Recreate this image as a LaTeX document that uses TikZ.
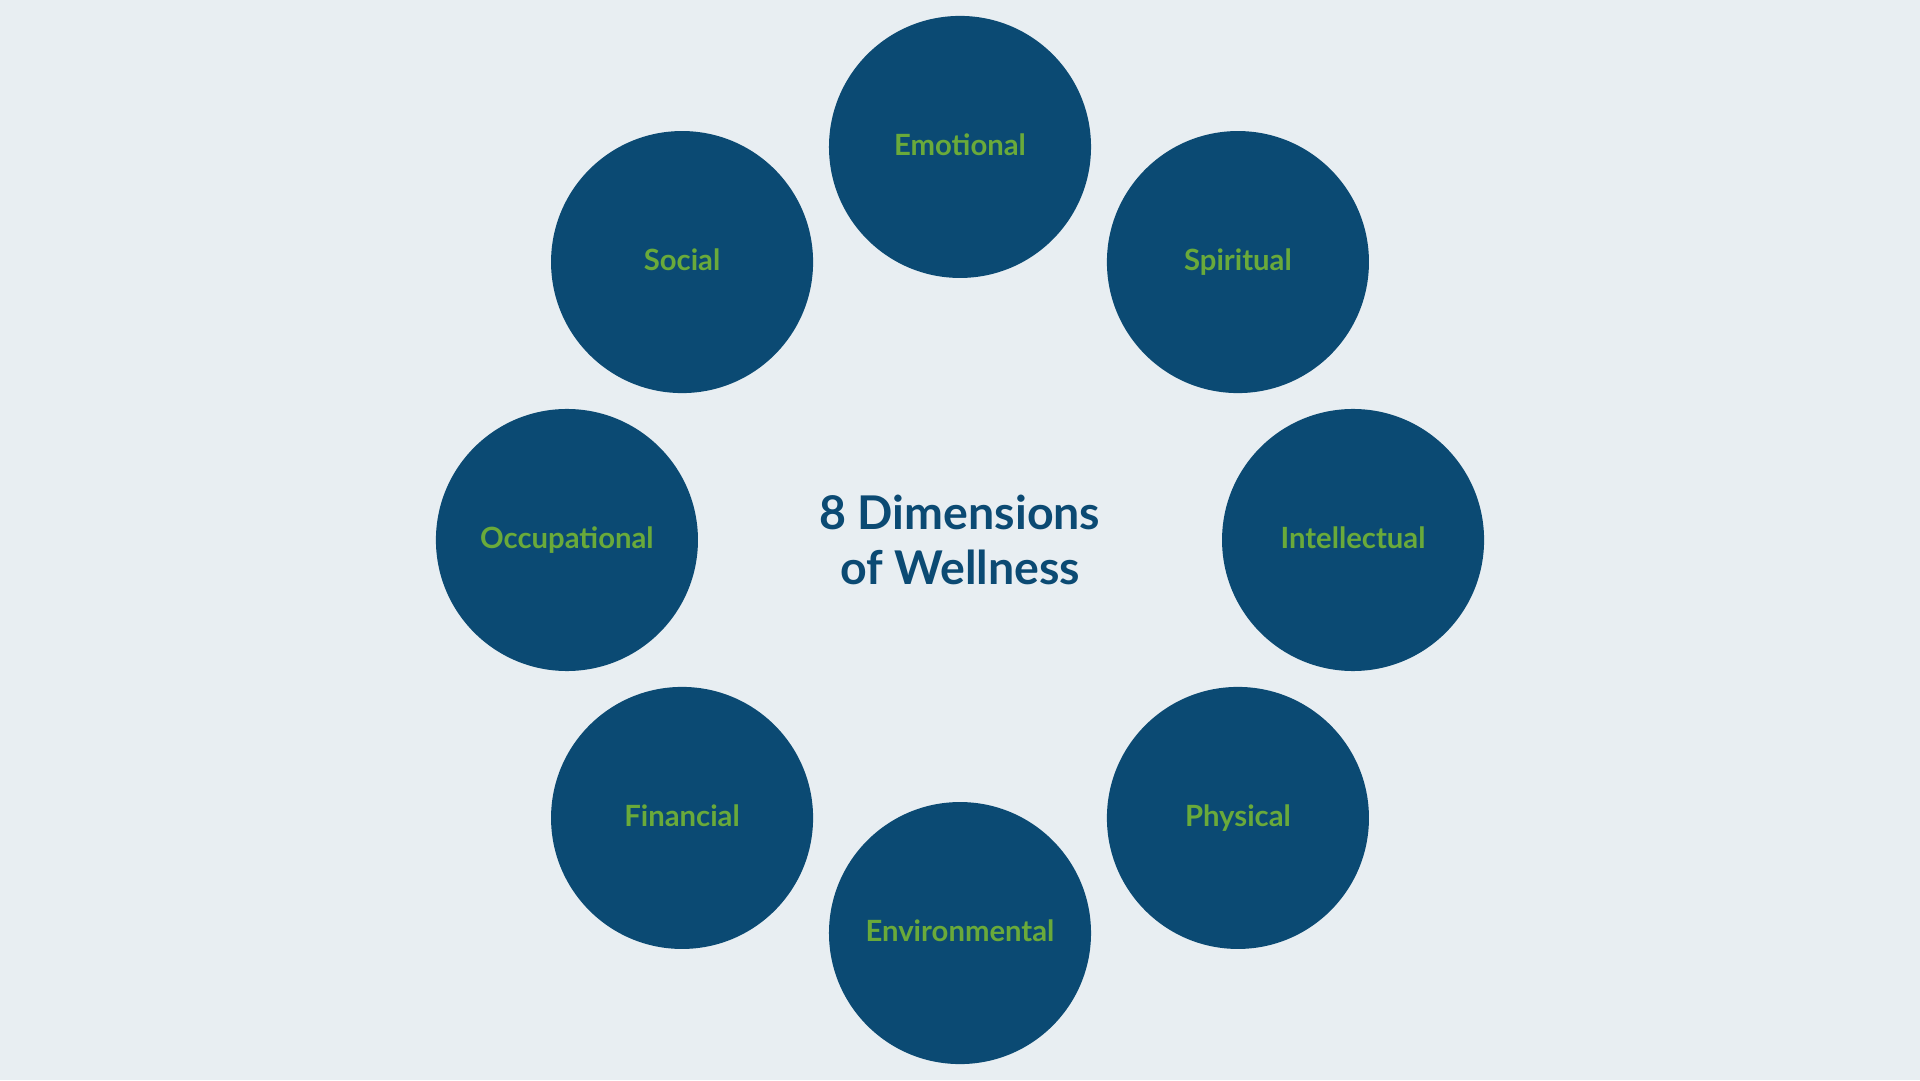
\documentclass[tikz,border=0pt]{standalone}
\usepackage{fontspec}
\setmainfont{Lato}
\usepackage{tikz}
\usetikzlibrary{calc}
\definecolor{bgcol}{HTML}{E8EEF2}
\definecolor{dimblue}{HTML}{0B4A73}
\definecolor{dimgreen}{HTML}{6AAA3A}
\tikzset{
  dimension/.style={circle, fill=dimblue, minimum size=53.5mm, inner sep=0pt,
    text=dimgreen, font=\fontsize{17}{20}\selectfont\bfseries},
  title/.style={text=dimblue, align=center, font=\fontsize{27}{32}\selectfont\bfseries}
}
\begin{document}
\begin{tikzpicture}[x=0.25mm, y=0.25mm]
    % Background
    \fill[bgcol] (0,0) rectangle (1568,882);
    \useasboundingbox (0,0) rectangle (1568,882);

    % Centre title
    \node[title] (center) at (784,441) {8 Dimensions\\of Wellness};

    % Ring of dimensions
    \foreach \name/\ang in {Emotional/90, Spiritual/45, Intellectual/0, Physical/-45,
        Environmental/-90, Financial/-135, Occupational/180, Social/135} {
        \node[dimension] (\name) at ($(center)+(\ang:321)$) {\raisebox{3pt}{\name}};
    }
\end{tikzpicture}
\end{document}
